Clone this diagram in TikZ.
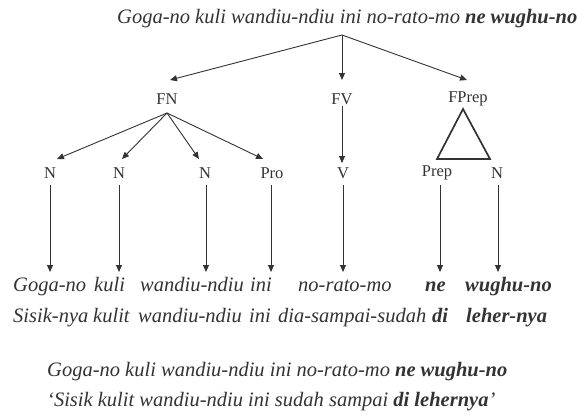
\documentclass[tikz,border=0pt]{standalone}
\usepackage{fontspec}
\setmainfont{Liberation Serif}
\usetikzlibrary{arrows.meta}
\definecolor{ink}{gray}{0.2}
\begin{document}
\begin{tikzpicture}[x=1pt,y=-1pt,
  lab/.style={font=\fontsize{16.5}{18}\selectfont, text=ink, inner sep=1pt},
  sent/.style={font=\fontsize{20.5}{22}\selectfont\itshape, text=ink, inner sep=0pt, anchor=base west},
  arr/.style={draw=ink, line width=0.9pt, -{Triangle[length=7pt,width=6pt]}},
  tri/.style={draw=ink, line width=1.7pt, line join=miter}]
\useasboundingbox (0,0) rectangle (577,418);
\fill[white] (0,0) rectangle (577,418);
% top sentence
\node[sent] (top) at (117,23) {Goga-no kuli wandiu-ndiu ini no-rato-mo \textbf{ne wughu-no}};
\coordinate (root) at (342,35);
% level 1
\node[lab] (FN) at (167,99) {FN};
\node[lab] (FV) at (342,99) {FV};
\node[lab] (FPrep) at (468,99) {FPrep};
\draw[arr] (root) -- (170,80);
\draw[arr] (root) -- (342,80);
\draw[arr] (root) -- (467,80);
% level 2
\coordinate (fnj) at (167,113);
\node[lab] (N1) at (50,173) {N};
\node[lab] (N2) at (119,173) {N};
\node[lab] (N3) at (205,173) {N};
\node[lab] (Pro) at (272,173) {Pro};
\node[lab] (V) at (343,173) {V};
\node[lab] (Prep) at (437,173) {Prep};
\node[lab] (N4) at (497,173) {N};
\draw[arr] (fnj) -- (57,159);
\draw[arr] (fnj) -- (122,159);
\draw[arr] (fnj) -- (199,159);
\draw[arr] (fnj) -- (263,159);
\draw[arr] (FV) -- (342,163);
\draw[tri] (463,109) -- (437,159) -- (490,159) -- cycle;
% vertical arrows
\foreach \x in {50,119,206,271,343,440,498}{
  \draw[arr] (\x,185) -- (\x,272);
}
% row 1
\node[sent] (r1a) at (13,291) {Goga-no};
\node[sent] (r1b) at (94,291) {kuli};
\node[sent] (r1c) at (140,291) {wandiu-ndiu};
\node[sent] (r1d) at (250,291) {ini};
\node[sent] (r1e) at (298,291) {no-rato-mo};
\node[sent] (r1f) at (425,291) {\textbf{ne}};
\node[sent] (r1g) at (465,291) {\textbf{wughu-no}};
% row 2
\node[sent] (r2a) at (13,322) {Sisik-nya};
\node[sent] (r2b) at (93,322) {kulit};
\node[sent] (r2c) at (138,322) {wandiu-ndiu};
\node[sent] (r2d) at (249,322) {ini};
\node[sent] (r2e) at (278,322) {dia-sampai-sudah};
\node[sent] (r2f) at (432,322) {\textbf{di}};
\node[sent] (r2g) at (466,322) {\textbf{leher-nya}};
% bottom
\node[sent] (b1) at (47,376) {Goga-no kuli wandiu-ndiu ini no-rato-mo \textbf{ne wughu-no}};
\node[sent] (b2) at (47,406) {`Sisik kulit wandiu-ndiu ini sudah sampai \textbf{di lehernya}'};
\end{tikzpicture}
\end{document}
